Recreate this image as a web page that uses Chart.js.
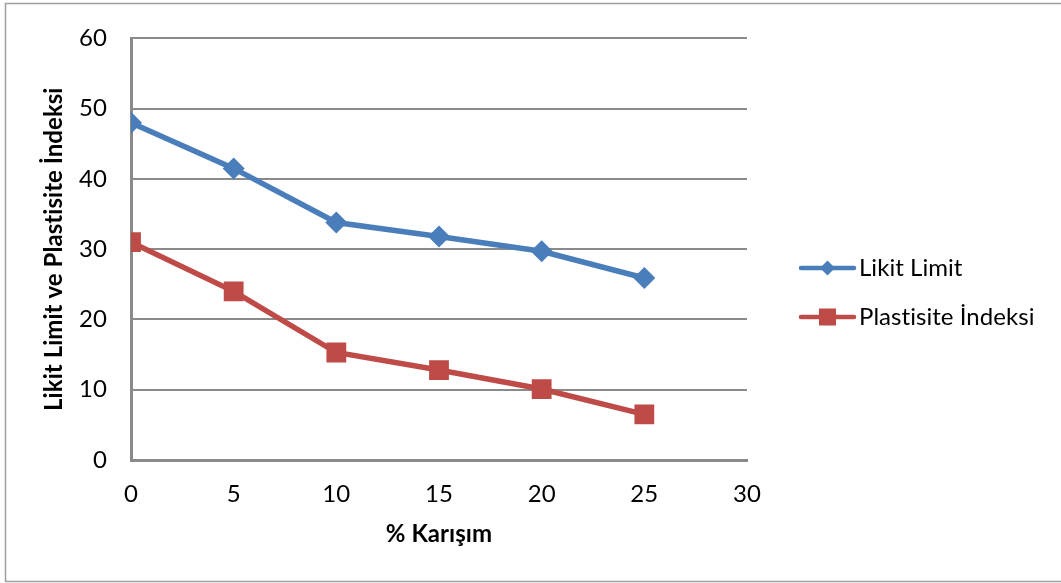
<!DOCTYPE html>
<html>
<head>
<meta charset="utf-8">
<script src="https://cdn.jsdelivr.net/npm/chart.js@4"></script>
<style>
  html, body { margin: 0; padding: 0; background: #ffffff; }
  canvas { display: block; }
</style>
</head>
<body>
<canvas id="c" width="1061" height="583"></canvas>
<script>
// Mixture percentage on the x axis
const mixPct = [0, 5, 10, 15, 20, 25];
// Liquid limit values
const likitLimit = [48, 41.5, 33.8, 31.8, 29.7, 25.9];
// Plasticity index values
const plastisiteIndeksi = [31, 24, 15.3, 12.8, 10.1, 6.5];

const seriesNames = ['Likit Limit', 'Plastisite İndeksi'];
const xTitle = '% Karışım';
const yTitle = 'Likit Limit ve Plastisite İndeksi';

const FONT = 'Lato';
const BLUE = '#4a7ebb';
const RED = '#be4b48';
const GRID = '#8a8a8a';

function toPoints(xs, ys) {
  return xs.map((x, i) => ({ x: x, y: ys[i] }));
}

// Outer frame of the chart; a tiny letter spacing keeps "ti" from ligating
const framePlugin = {
  id: 'frame',
  beforeDraw(chart) {
    const ctx = chart.ctx;
    if ('letterSpacing' in ctx) ctx.letterSpacing = '0.05px';
    ctx.save();
    ctx.fillStyle = '#ffffff';
    ctx.fillRect(0, 0, chart.width, chart.height);
    ctx.strokeStyle = '#a0a0a0';
    ctx.lineWidth = 1.5;
    ctx.strokeRect(5.5, 3.5, chart.width + 10, chart.height - 5);
    ctx.restore();
  }
};

// Legend on the right: line segment with the series marker, then the name
const sideLegend = {
  id: 'sideLegend',
  afterDraw(chart) {
    const ctx = chart.ctx;
    const rows = [268, 317];
    ctx.save();
    chart.data.datasets.forEach((ds, i) => {
      const y = rows[i];
      ctx.strokeStyle = ds.borderColor;
      ctx.lineWidth = 4.5;
      ctx.lineCap = 'round';
      ctx.beginPath();
      ctx.moveTo(801, y);
      ctx.lineTo(854, y);
      ctx.stroke();
      ctx.fillStyle = ds.backgroundColor;
      if (ds.pointStyle === 'rectRot') {
        ctx.beginPath();
        ctx.moveTo(827.5, y - 7.5);
        ctx.lineTo(835, y);
        ctx.lineTo(827.5, y + 7.5);
        ctx.lineTo(820, y);
        ctx.closePath();
        ctx.fill();
      } else {
        ctx.fillRect(819, y - 8.5, 17, 17);
      }
      ctx.fillStyle = '#000000';
      ctx.font = '24px ' + FONT;
      ctx.textAlign = 'left';
      ctx.textBaseline = 'middle';
      ctx.fillText(ds.label, 859, y);
    });
    ctx.restore();
  }
};

new Chart(document.getElementById('c'), {
  type: 'line',
  data: {
    datasets: [
      {
        label: seriesNames[0],
        data: toPoints(mixPct, likitLimit),
        borderColor: BLUE,
        backgroundColor: BLUE,
        borderWidth: 5.5,
        pointStyle: 'rectRot',
        pointRadius: 11,
        pointHoverRadius: 11,
        pointBorderWidth: 0,
        tension: 0
      },
      {
        label: seriesNames[1],
        data: toPoints(mixPct, plastisiteIndeksi),
        borderColor: RED,
        backgroundColor: RED,
        borderWidth: 5.5,
        pointStyle: 'rect',
        pointRadius: 14,
        pointHoverRadius: 14,
        pointBorderWidth: 0,
        tension: 0
      }
    ]
  },
  options: {
    responsive: false,
    animation: false,
    events: [],
    layout: { padding: { left: 0, top: 33, right: 314, bottom: 0 } },
    plugins: {
      legend: { display: false },
      tooltip: { enabled: false }
    },
    scales: {
      x: {
        type: 'linear',
        min: 0,
        max: 30,
        afterFit(scale) { scale.height = 123; },
        ticks: {
          stepSize: 5,
          padding: 20,
          color: '#000000',
          font: { family: FONT, size: 24 }
        },
        grid: { color: 'rgba(0,0,0,0)', drawTicks: false, tickLength: 0 },
        border: { display: true, color: GRID, width: 3 },
        title: {
          display: true,
          text: xTitle,
          color: '#000000',
          font: { family: FONT, size: 24, weight: 'bold' },
          padding: { top: 0, bottom: 34 }
        }
      },
      y: {
        min: 0,
        max: 60,
        afterFit(scale) { scale.width = 131; },
        ticks: {
          stepSize: 10,
          padding: 24,
          color: '#000000',
          font: { family: FONT, size: 24 }
        },
        grid: { color: GRID, lineWidth: 2, drawTicks: false, tickLength: 0 },
        border: { display: true, color: GRID, width: 3 },
        title: {
          display: true,
          text: yTitle,
          color: '#000000',
          font: { family: FONT, size: 24, weight: 'bold' },
          padding: { top: 40, bottom: 0 }
        }
      }
    }
  },
  plugins: [framePlugin, sideLegend]
});
</script>
</body>
</html>
